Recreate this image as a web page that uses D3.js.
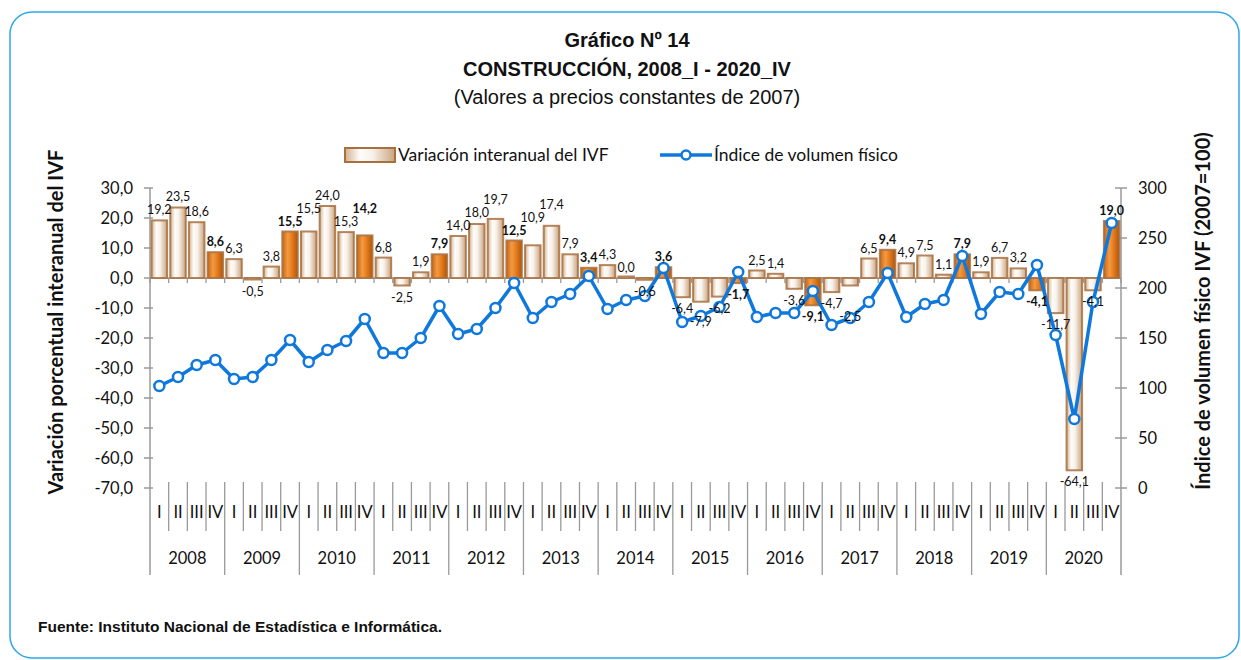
<!DOCTYPE html>
<html>
<head>
<meta charset="utf-8">
<script src="https://cdn.jsdelivr.net/npm/d3@7"></script>
<style>
  body { margin: 0; background: #fff; }
  svg { display: block; }
  .tick-lbl { font-family: Lato, "Open Sans", sans-serif; font-size: 16.5px; fill: #111; }
  .bar-lbl { font-family: Lato, "Open Sans", sans-serif; font-size: 12.5px; fill: #111; }
</style>
</head>
<body>
<div id="chart"></div>
<script>
const years = ['2008', '2009', '2010', '2011', '2012', '2013', '2014', '2015', '2016', '2017', '2018', '2019', '2020'];
const quarters = ['I', 'II', 'III', 'IV'];

// variación interanual del IVF (%)
const variacion = [
  19.2, 23.5, 18.6, 8.6,
  6.3, -0.5, 3.8, 15.5,
  15.5, 24.0, 15.3, 14.2,
  6.8, -2.5, 1.9, 7.9,
  14.0, 18.0, 19.7, 12.5,
  10.9, 17.4, 7.9, 3.4,
  4.3, 0.0, -0.6, 3.6,
  -6.4, -7.9, -6.2, -1.7,
  2.5, 1.4, -3.6, -9.1,
  -4.7, -2.5, 6.5, 9.4,
  4.9, 7.5, 1.1, 7.9,
  1.9, 6.7, 3.2, -4.1,
  -11.7, -64.1, -4.1, 19.0
];

// índice de volumen físico (2007=100)
const indice = [
  102, 111, 123, 128,
  109, 111, 128, 148,
  126, 138, 147, 169,
  135, 135, 150, 182,
  154, 159, 180, 205,
  170, 186, 194, 212,
  179, 188, 192, 220,
  166, 172, 181, 216,
  171, 175, 175, 197,
  163, 170, 186, 215,
  171, 184, 188, 232,
  174, 196, 194, 223,
  153, 69, 186, 265
];

const leftTicks = [30, 20, 10, 0, -10, -20, -30, -40, -50, -60, -70];
const rightTicks = [300, 250, 200, 150, 100, 50, 0];

const W = 1241, H = 660;
const fmt = v => d3.format('.1f')(v).replace('.', ',').replace('\u2212', '-');

const svg = d3.select('#chart').append('svg')
  .attr('width', W)
  .attr('height', H);

const defs = svg.append('defs');
const gCream = defs.append('linearGradient').attr('id', 'gCream');
[['0%', '#d2b08e'], ['30%', '#fffdfa'], ['55%', '#f7f1ea'], ['100%', '#c9a47f']].forEach(s => {
  gCream.append('stop').attr('offset', s[0]).attr('stop-color', s[1]);
});
const gOrange = defs.append('linearGradient').attr('id', 'gOrange');
[['0%', '#c9650f'], ['35%', '#f39a45'], ['60%', '#e77f1f'], ['100%', '#b25408']].forEach(s => {
  gOrange.append('stop').attr('offset', s[0]).attr('stop-color', s[1]);
});

// frame
svg.append('rect')
  .attr('x', 10).attr('y', 12)
  .attr('width', 1229).attr('height', 646)
  .attr('rx', 22)
  .attr('fill', 'none')
  .attr('stroke', '#2ea6ee')
  .attr('stroke-width', 1.5);

// titles
const titles = [
  { t: 'Gráfico Nº 14', y: 47, w: 'bold' },
  { t: 'CONSTRUCCIÓN, 2008_I - 2020_IV', y: 76, w: 'bold' },
  { t: '(Valores a precios constantes de 2007)', y: 104, w: 'normal' }
];
titles.forEach(d => {
  svg.append('text')
    .attr('x', 627).attr('y', d.y)
    .attr('text-anchor', 'middle')
    .attr('font-family', '"Liberation Sans Narrow", "Liberation Sans", Arial, sans-serif')
    .attr('font-size', 20)
    .attr('font-weight', d.w)
    .attr('fill', '#111')
    .text(d.t);
});

const x0 = 150, x1 = 1121;
const categories = [];
years.forEach(y => quarters.forEach(q => categories.push(y + '-' + q)));

const x = d3.scaleBand().domain(categories).range([x0, x1]).paddingInner(0.17).paddingOuter(0.085);
const step = x.step();
const yL = d3.scaleLinear().domain([-70, 30]).range([488, 188]);
const yR = d3.scaleLinear().domain([0, 300]).range([488, 188]);
const axisColor = '#9a9a9a';

// legend
const lg = svg.append('g').attr('class', 'legend');
lg.append('rect').attr('x', 345).attr('y', 148).attr('width', 50).attr('height', 14)
  .attr('fill', 'url(#gCream)').attr('stroke', '#a8703f').attr('stroke-width', 2);
lg.append('text').attr('x', 398).attr('y', 161)
  .attr('font-family', 'Lato, sans-serif').attr('font-size', 17.5).attr('fill', '#111')
  .text('Variación interanual del IVF');
lg.append('line').attr('x1', 660).attr('x2', 712).attr('y1', 155).attr('y2', 155)
  .attr('stroke', '#0f78dc').attr('stroke-width', 3.5);
lg.append('circle').attr('cx', 686).attr('cy', 155).attr('r', 4.5)
  .attr('fill', '#fff').attr('stroke', '#0f78dc').attr('stroke-width', 2.5);
lg.append('text').attr('x', 714).attr('y', 161)
  .attr('font-family', 'Lato, sans-serif').attr('font-size', 17.5).attr('fill', '#111')
  .text('Índice de volumen físico');

// left axis
const gAx = svg.append('g');
gAx.append('line').attr('x1', x0).attr('x2', x0).attr('y1', 188).attr('y2', 575)
  .attr('stroke', axisColor).attr('stroke-width', 1.5);
leftTicks.forEach(t => {
  gAx.append('line').attr('x1', x0 - 6).attr('x2', x0 + 3).attr('y1', yL(t)).attr('y2', yL(t))
    .attr('stroke', axisColor).attr('stroke-width', 1.5);
  gAx.append('text').attr('class', 'tick-lbl')
    .attr('x', 133).attr('y', yL(t)).attr('dy', '0.36em')
    .attr('text-anchor', 'end').text(fmt(t));
});

// right axis
gAx.append('line').attr('x1', x1).attr('x2', x1).attr('y1', 188).attr('y2', 575)
  .attr('stroke', axisColor).attr('stroke-width', 1.5);
rightTicks.forEach(t => {
  gAx.append('line').attr('x1', x1 - 6).attr('x2', x1 + 6).attr('y1', yR(t)).attr('y2', yR(t))
    .attr('stroke', axisColor).attr('stroke-width', 1.5);
  gAx.append('text').attr('class', 'tick-lbl')
    .attr('x', 1138).attr('y', yR(t)).attr('dy', '0.36em')
    .attr('text-anchor', 'start').text(t);
});

// axis titles
svg.append('text')
  .attr('transform', 'translate(63,322) rotate(-90)')
  .attr('text-anchor', 'middle')
  .attr('font-family', 'Lato, sans-serif').attr('font-size', 20).attr('font-weight', 'bold')
  .attr('fill', '#111')
  .text('Variación porcentual interanual del IVF');
svg.append('text')
  .attr('transform', 'translate(1210,311) rotate(-90)')
  .attr('text-anchor', 'middle')
  .attr('font-family', 'Lato, sans-serif').attr('font-size', 20).attr('font-weight', 'bold')
  .attr('fill', '#111')
  .text('Índice de volumen físico IVF (2007=100)');

// category axis (bottom)
const gCat = svg.append('g');
categories.forEach((c, i) => {
  const bx = x0 + i * step;
  const isYear = i % 4 === 0;
  if (i > 0) {
    gCat.append('line').attr('x1', bx).attr('x2', bx)
      .attr('y1', 482).attr('y2', isYear ? 575 : 531)
      .attr('stroke', axisColor).attr('stroke-width', 1.3);
  }
  gCat.append('text').attr('class', 'tick-lbl')
    .attr('x', x(c) + x.bandwidth() / 2).attr('y', 518)
    .attr('text-anchor', 'middle')
    .text(quarters[i % 4]);
});
years.forEach((y, i) => {
  gCat.append('text').attr('class', 'tick-lbl')
    .attr('x', x0 + (i * 4 + 2) * step).attr('y', 564)
    .attr('text-anchor', 'middle')
    .text(y);
});

// bars
const gBars = svg.append('g');
variacion.forEach((v, i) => {
  const c = categories[i];
  const h = Math.max(Math.abs(yL(v) - yL(0)), 1.5);
  gBars.append('rect')
    .attr('x', x(c)).attr('y', v < 0 ? yL(0) : Math.min(yL(v), yL(0) - 1.5))
    .attr('width', x.bandwidth()).attr('height', h)
    .attr('fill', i % 4 === 3 ? 'url(#gOrange)' : 'url(#gCream)')
    .attr('stroke', '#a8703f')
    .attr('stroke-opacity', 0.85)
    .attr('stroke-width', 2);
});

// zero line with ticks
gAx.append('line').attr('x1', x0).attr('x2', x1).attr('y1', yL(0)).attr('y2', yL(0))
  .attr('stroke', axisColor).attr('stroke-width', 1.5);
d3.range(categories.length + 1).forEach(i => {
  const bx = x0 + i * step;
  gAx.append('line').attr('x1', bx).attr('x2', bx).attr('y1', yL(0)).attr('y2', yL(0) + 5)
    .attr('stroke', axisColor).attr('stroke-width', 1.3);
});

// line
const gLine = svg.append('g');
const line = d3.line()
  .x((d, i) => x(categories[i]) + x.bandwidth() / 2)
  .y(d => yR(d));
gLine.append('path')
  .attr('d', line(indice))
  .attr('fill', 'none')
  .attr('stroke', '#0f78dc')
  .attr('stroke-width', 3.5)
  .attr('stroke-linejoin', 'round');
indice.forEach((v, i) => {
  gLine.append('circle')
    .attr('cx', x(categories[i]) + x.bandwidth() / 2)
    .attr('cy', yR(v))
    .attr('r', 5)
    .attr('fill', '#fff')
    .attr('stroke', '#0f78dc')
    .attr('stroke-width', 2.5);
});

// bar labels, nudged away from the previous label when they collide
const gLbl = svg.append('g');
let prev = null;
variacion.forEach((v, i) => {
  const cx = x(categories[i]) + x.bandwidth() / 2;
  const t = gLbl.append('text')
    .attr('class', 'bar-lbl')
    .attr('x', cx)
    .attr('text-anchor', 'middle')
    .attr('font-weight', i % 4 === 3 ? 'bold' : 'normal')
    .text(fmt(v));
  const w = t.node().getComputedTextLength();
  let y = v >= 0 ? yL(v) - 6 : yL(v) + 16;
  if (prev && Math.abs(cx - prev.x) < (w + prev.w) / 2 + 1 && Math.abs(y - prev.y) < 13) {
    y = v >= 0 ? prev.y - 13 : prev.y + 13;
  }
  t.attr('y', y);
  prev = { x: cx, y: y, w: w };
});

// source
svg.append('text')
  .attr('x', 38).attr('y', 632)
  .attr('font-family', '"Liberation Sans Narrow", "Liberation Sans", Arial, sans-serif')
  .attr('font-size', 15.5).attr('font-weight', 'bold').attr('fill', '#111')
  .text('Fuente: Instituto Nacional de Estadística e Informática.');
</script>
</body>
</html>
